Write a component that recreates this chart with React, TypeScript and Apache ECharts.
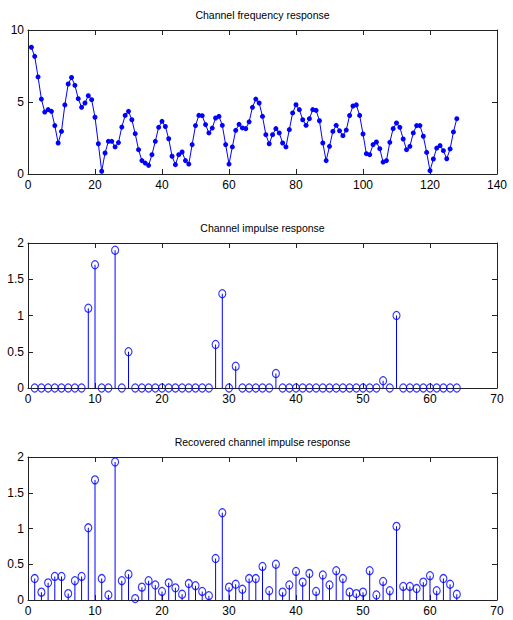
import React, { useEffect, useRef } from "react";
import * as echarts from "echarts";

// Channel frequency response, samples 1..128
const freqResponse = [
  8.8, 8.17, 6.74, 5.2, 4.3, 4.47, 4.35, 3.36, 2.15, 2.96,
  4.8, 6.25, 6.7, 6.16, 5.23, 4.63, 4.93, 5.44, 5.16, 3.94,
  2.1, 0.19, 1.46, 2.27, 2.27, 1.88, 2.18, 3.26, 4.07, 4.35,
  3.77, 2.8, 1.69, 0.93, 0.76, 0.6, 1.34, 2.27, 3.24, 3.66,
  3.3, 2.45, 1.23, 0.65, 1.34, 1.53, 0.93, 0.69, 2.04, 3.36,
  4.07, 4.05, 3.43, 2.85, 3.19, 3.89, 4.0, 3.38, 2.04, 0.69,
  1.88, 3.03, 3.45, 3.2, 3.15, 3.62, 4.63, 5.2, 4.93, 4.0,
  2.73, 2.1, 2.73, 3.15, 2.85, 2.15, 1.88, 3.08, 4.24, 4.81,
  4.47, 3.77, 3.38, 3.84, 4.47, 4.42, 3.7, 2.15, 0.93, 1.92,
  2.96, 3.38, 3.0, 2.66, 3.05, 4.06, 4.72, 4.8, 4.07, 2.78,
  1.41, 1.34, 2.04, 2.22, 1.76, 0.83, 0.93, 2.2, 3.15, 3.54,
  3.24, 2.43, 1.69, 1.92, 2.85, 3.36, 3.36, 2.62, 1.5, 0.23,
  1.04, 1.8, 1.97, 1.62, 1.06, 1.74, 2.92, 3.84,
];

// Channel impulse response, taps 1..64
const channelImpulse = [
  0, 0, 0, 0, 0, 0, 0, 0, 1.1, 1.7,
  0, 0, 1.9, 0, 0.5, 0, 0, 0, 0, 0,
  0, 0, 0, 0, 0, 0, 0, 0.6, 1.3, 0,
  0.3, 0, 0, 0, 0, 0, 0.2, 0, 0, 0,
  0, 0, 0, 0, 0, 0, 0, 0, 0, 0,
  0, 0, 0.1, 0, 1.0, 0, 0, 0, 0, 0,
  0, 0, 0, 0,
];

// Recovered channel impulse response, taps 1..64
const recoveredImpulse = [
  0.3, 0.11, 0.24, 0.33, 0.33, 0.09, 0.27, 0.33, 1.01, 1.68,
  0.3, 0.07, 1.93, 0.27, 0.36, 0.02, 0.18, 0.27, 0.21, 0.12,
  0.24, 0.17, 0.08, 0.23, 0.2, 0.12, 0.06, 0.58, 1.22, 0.18,
  0.22, 0.15, 0.3, 0.3, 0.47, 0.13, 0.5, 0.11, 0.21, 0.4,
  0.25, 0.37, 0.12, 0.35, 0.21, 0.41, 0.3, 0.11, 0.09, 0.11,
  0.41, 0.07, 0.26, 0.13, 1.03, 0.19, 0.19, 0.16, 0.25, 0.34,
  0.13, 0.3, 0.22, 0.08,
];

const titles = [
  "Channel frequency response",
  "Channel impulse response",
  "Recovered channel impulse response",
];

const FONT = '"Liberation Sans", Arial, sans-serif';
const BLUE = "#0000ff";
const AXIS = "#222222";

function App() {
  const ref = useRef<HTMLDivElement>(null);

  useEffect(() => {
    if (!ref.current) return;
    const chart = echarts.init(ref.current, undefined, { renderer: "svg" });

    const grids = [
      { left: 28, top: 30, width: 469, height: 144 },
      { left: 28, top: 243, width: 469, height: 145 },
      { left: 28, top: 457, width: 469, height: 143 },
    ];
    const xCfg = [
      { max: 140, interval: 20 },
      { max: 70, interval: 10 },
      { max: 70, interval: 10 },
    ];
    const yCfg = [
      { max: 10, interval: 5 },
      { max: 2, interval: 0.5 },
      { max: 2, interval: 0.5 },
    ];

    const axisLine = { show: true, onZero: false, lineStyle: { color: AXIS, width: 1 } };
    const axisTick = { show: true, inside: true, length: 5, lineStyle: { color: AXIS, width: 1 } };
    const label = { color: "#000", fontSize: 12, fontFamily: FONT };

    const xAxis: any[] = [];
    const yAxis: any[] = [];
    grids.forEach((_, g) => {
      xAxis.push({
        type: "value", gridIndex: g, position: "bottom", min: 0,
        max: xCfg[g].max, interval: xCfg[g].interval,
        axisLine, axisTick, splitLine: { show: false },
        axisLabel: { ...label, margin: 5, showMinLabel: true, showMaxLabel: true },
      });
      xAxis.push({
        type: "value", gridIndex: g, position: "top", min: 0,
        max: xCfg[g].max, interval: xCfg[g].interval,
        axisLine, axisTick, splitLine: { show: false },
        axisLabel: { show: false },
      });
      yAxis.push({
        type: "value", gridIndex: g, position: "left", min: 0,
        max: yCfg[g].max, interval: yCfg[g].interval,
        axisLine, axisTick, splitLine: { show: false },
        axisLabel: { ...label, margin: 4, showMinLabel: true, showMaxLabel: true },
      });
      yAxis.push({
        type: "value", gridIndex: g, position: "right", min: 0,
        max: yCfg[g].max, interval: yCfg[g].interval,
        axisLine, axisTick, splitLine: { show: false },
        axisLabel: { show: false },
      });
    });

    const stem = (vals: number[], g: number) => [
      {
        type: "bar",
        xAxisIndex: g * 2, yAxisIndex: g * 2,
        barWidth: 1,
        itemStyle: { color: BLUE },
        data: vals.map((v, i) => [i + 1, v]),
        z: 2,
      },
      {
        type: "scatter",
        xAxisIndex: g * 2, yAxisIndex: g * 2,
        symbol: "circle",
        symbolSize: [7, 8],
        clip: false,
        itemStyle: { color: "rgba(0,0,0,0)", borderColor: BLUE, borderWidth: 1.2 },
        data: vals.map((v, i) => [i + 1, v]),
        z: 3,
      },
    ];

    const titleY = [15, 228, 442];

    chart.setOption({
      animation: false,
      backgroundColor: "#ffffff",
      grid: grids,
      xAxis,
      yAxis,
      graphic: titles.map((t, i) => ({
        type: "text",
        x: 262.5,
        y: titleY[i],
        style: {
          text: t,
          fill: "#000",
          font: `10.5px ${FONT}`,
          textAlign: "center",
          textVerticalAlign: "middle",
          verticalAlign: "middle",
        },
      })),
      series: [
        {
          type: "line",
          xAxisIndex: 0, yAxisIndex: 0,
          data: freqResponse.map((v, i) => [i + 1, v]),
          symbol: "circle",
          symbolSize: 5,
          showAllSymbol: true,
          lineStyle: { color: BLUE, width: 1 },
          itemStyle: { color: BLUE },
        },
        ...stem(channelImpulse, 1),
        ...stem(recoveredImpulse, 2),
      ],
    });

    return () => chart.dispose();
  }, []);

  return (
    <div
      ref={ref}
      style={{ position: "absolute", left: 0, top: 0, width: 513, height: 620, background: "#fff" }}
    />
  );
}

export default App;
